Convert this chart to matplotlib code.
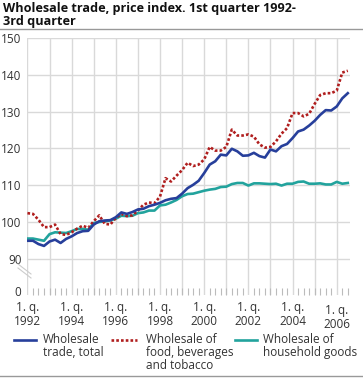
import matplotlib
matplotlib.use("Agg")
from matplotlib import pyplot as plt
from matplotlib.lines import Line2D
import numpy as np

plt.rcParams["font.family"] = ["Open Sans", "DejaVu Sans"]

# quarterly index, 1. q. 1992 - 3. q. 2006
total = [94.9, 94.9, 94.0, 93.5, 94.7, 95.2, 94.3, 95.4, 96.1, 97.0,
         97.5, 97.6, 99.3, 100.2, 100.4, 100.5, 101.3, 102.6, 102.2, 102.7,
         103.4, 103.6, 104.3, 104.7, 105.2, 105.9, 106.3, 106.5, 107.7, 109.2,
         110.1, 111.2, 113.3, 115.6, 116.5, 118.3, 118.1, 119.9, 119.2, 118.0,
         118.1, 118.8, 117.9, 117.5, 119.7, 119.2, 120.6, 121.2, 122.8, 124.6,
         125.1, 126.2, 127.5, 129.1, 130.4, 130.3, 131.4, 133.6, 135.0]
food = [102.4, 102.2, 100.6, 98.6, 98.6, 99.3, 96.7, 96.5, 97.2, 98.2,
        99.0, 98.4, 100.2, 101.8, 99.5, 99.3, 101.1, 102.2, 101.6, 101.8,
        103.1, 104.7, 105.3, 105.1, 106.9, 111.9, 111.0, 112.6, 114.1, 116.1,
        115.2, 115.6, 117.0, 120.4, 119.4, 119.4, 120.4, 125.1, 123.5, 123.5,
        123.8, 123.2, 121.1, 120.2, 120.4, 121.9, 124.0, 125.5, 129.6, 129.6,
        128.7, 129.4, 132.1, 134.5, 135.0, 135.0, 135.7, 140.6, 141.1]
household = [95.5, 95.5, 95.2, 94.9, 96.7, 97.2, 97.1, 97.0, 97.5, 98.1,
             98.1, 97.9, 99.7, 100.0, 100.2, 100.4, 100.9, 101.7, 101.6, 101.7,
             102.4, 102.6, 103.1, 103.1, 104.5, 104.7, 105.3, 106.0, 107.0, 107.6,
             107.7, 108.1, 108.5, 108.8, 109.0, 109.5, 109.6, 110.3, 110.6, 110.6,
             109.9, 110.5, 110.5, 110.4, 110.3, 110.4, 109.9, 110.4, 110.4, 110.9,
             111.0, 110.4, 110.4, 110.5, 110.2, 110.2, 110.9, 110.4, 110.6]
start_year = 1992
label_years = [1992, 1994, 1996, 1998, 2000, 2002, 2004, 2006]
y_ticks = [90, 100, 110, 120, 130, 140, 150]
labels = ["Wholesale\ntrade, total", "Wholesale of\nfood, beverages\nand tobacco",
          "Wholesale of\nhousehold goods"]

x = start_year + np.arange(len(total)) / 4

blue = "#273f9b"
red = "#b01e1e"
teal = "#22a39d"
grid = "#d9d9d9"
txt = "#333333"

fig = plt.figure(figsize=(3.63, 3.78), dpi=100)
ax = fig.add_axes([27 / 363, 1 - 295 / 378, 323 / 363, 257 / 378])

ax.plot(x, household, color=teal, lw=1.9, zorder=3)
ax.plot(x, food, color=red, lw=1.9, ls=(0, (1.0, 0.8)), zorder=4)
ax.plot(x, total, color=blue, lw=1.9, zorder=5)

zero_pos = 81.25
ax.set_ylim(80.16, 150)
ax.set_xlim(1991.98, 2006.6)

for v in y_ticks:
    ax.axhline(v, color=grid, lw=1, zorder=1)
for yr in range(1992, 2007):
    ax.axvline(yr, color=grid, lw=1, zorder=1)

ax.set_yticks(y_ticks + [zero_pos])
ax.set_yticklabels([str(v) for v in y_ticks] + ["0"])
ax.tick_params(axis="y", length=0, pad=4, labelsize=8.5, labelcolor=txt)

ax.set_xticks(label_years)
ax.set_xticklabels(["1. q.\n%d" % y for y in label_years], linespacing=1.1)
ax.set_xticks(np.arange(1992, 2006.75, 0.25), minor=True)
ax.tick_params(axis="x", which="major", direction="in", length=0, pad=4,
               labelsize=8.5, labelcolor=txt)
ax.tick_params(axis="x", which="minor", direction="in", length=5, width=0.8,
               color="#bbbbbb")
ax.get_xticklabels()[-1].set_y(-0.015)

for s in ax.spines.values():
    s.set_visible(False)

# axis break marks
for dy in (0, 4):
    fig.add_artist(Line2D([18 / 363, 31 / 363],
                          [1 - (264 + dy) / 378, 1 - (274 + dy) / 378],
                          color="#cccccc", lw=0.8))

fig.text(3 / 363, 1 - 2 / 378, "Wholesale trade, price index. 1st quarter 1992-\n3rd quarter",
         fontsize=9.1, fontweight="bold", va="top", ha="left", linespacing=0.95,
         color="#111111")
fig.add_artist(Line2D([0, 1], [1 - 29 / 378, 1 - 29 / 378], color="#999999", lw=1))
fig.add_artist(Line2D([0, 1], [1 - 375.5 / 378, 1 - 375.5 / 378], color="#999999", lw=1))

# legend
legend_items = [(blue, "-", 14, 36, 43), (red, (0, (1.0, 0.8)), 111, 137, 146),
                (teal, "-", 235, 257, 263)]
for (c, ls, x0, x1, tx), lab in zip(legend_items, labels):
    fig.add_artist(Line2D([x0 / 363, x1 / 363], [1 - 340 / 378, 1 - 340 / 378],
                          color=c, lw=1.9, ls=ls))
    fig.text(tx / 363, 1 - 333 / 378, lab, fontsize=8.5, va="top", ha="left",
             color=txt, linespacing=1.0)

fig.savefig("out.png", dpi=100)
